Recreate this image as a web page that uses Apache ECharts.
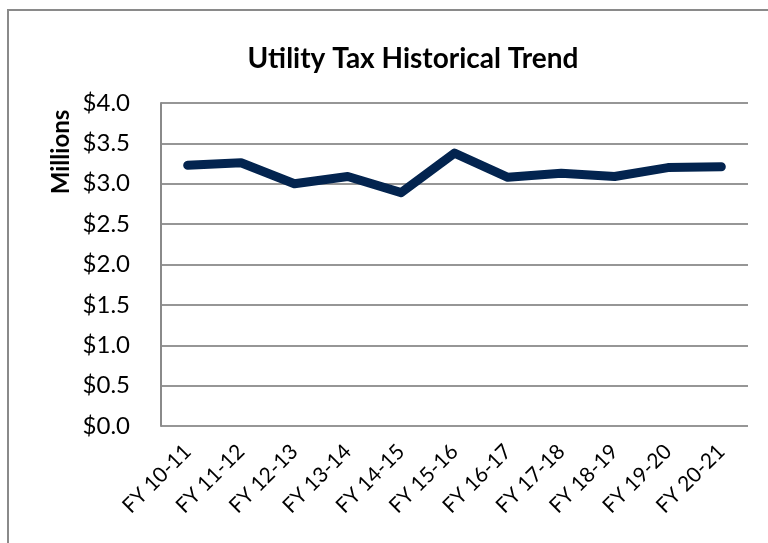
<!DOCTYPE html>
<html>
<head>
    <meta charset="utf-8">
    <title>Utility Tax Historical Trend</title>
    <script src="https://cdn.jsdelivr.net/npm/echarts@6/dist/echarts.min.js"></script>
    <style>
        html, body { margin: 0; padding: 0; background: #fff; }
    </style>
</head>
<body>
    <div id="main" style="width: 768px;height:543px;"></div>
    <script type="text/javascript">
        // data (millions of dollars)
        var years = ['FY 10-11', 'FY 11-12', 'FY 12-13', 'FY 13-14', 'FY 14-15', 'FY 15-16',
                     'FY 16-17', 'FY 17-18', 'FY 18-19', 'FY 19-20', 'FY 20-21'];
        var utilityTax = [3.23, 3.26, 3.00, 3.09, 2.89, 3.38, 3.08, 3.13, 3.09, 3.20, 3.21];

        var myChart = echarts.init(document.getElementById('main'));
        var font = 'Lato, "Liberation Sans", sans-serif';

        var option = {
            animation: false,
            title: {
                text: 'Utility Tax Historical Trend',
                left: 408,
                textAlign: 'center',
                top: 40,
                textStyle: { fontFamily: font, fontSize: 28, fontWeight: 'bold', color: '#000' }
            },
            graphic: [
                {
                    type: 'rect',
                    shape: { x: 8, y: 10, width: 800, height: 600 },
                    style: { fill: 'none', stroke: '#8a8a8a', lineWidth: 2 }
                },
                {
                    type: 'text',
                    x: 61,
                    y: 152,
                    rotation: Math.PI / 2,
                    style: {
                        text: 'Millions',
                        font: 'bold 24px ' + font,
                        fill: '#000',
                        align: 'center',
                        verticalAlign: 'middle'
                    }
                }
            ],
            grid: { left: 161, right: 20, top: 103, bottom: 117 },
            xAxis: {
                type: 'category',
                data: years,
                boundaryGap: true,
                axisLine: { show: false },
                axisTick: { show: false },
                axisLabel: {
                    rotate: 45,
                    margin: 22,
                    interval: 0,
                    fontFamily: font,
                    fontSize: 21,
                    color: '#000'
                }
            },
            yAxis: {
                type: 'value',
                min: 0,
                max: 4,
                interval: 0.5,
                axisLine: { show: true, lineStyle: { color: '#8a8a8a', width: 2 } },
                axisTick: { show: false },
                splitLine: { lineStyle: { color: '#969696', width: 2 } },
                axisLabel: {
                    margin: 31,
                    fontFamily: font,
                    fontSize: 24,
                    color: '#000',
                    formatter: function (v) { return '$' + v.toFixed(1); }
                }
            },
            series: [{
                name: 'Utility Tax',
                type: 'line',
                data: utilityTax,
                showSymbol: false,
                lineStyle: { color: '#03244f', width: 9, cap: 'round', join: 'round' }
            }]
        };
        myChart.setOption(option);
    </script>
</body>
</html>
